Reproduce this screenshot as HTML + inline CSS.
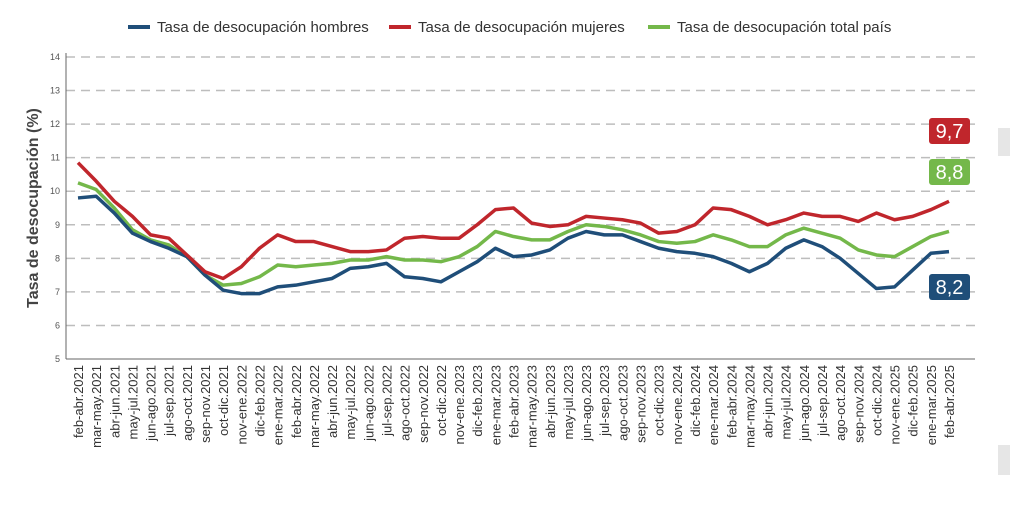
<!DOCTYPE html>
<html><head><meta charset="utf-8">
<style>
body{margin:0;background:#fff;font-family:"Liberation Sans",sans-serif;}
svg{display:block}
</style></head>
<body>
<svg id="chart" width="1010" height="522" viewBox="0 0 1010 522" xmlns="http://www.w3.org/2000/svg">
  <g font-size="15" fill="#333">
    <line x1="128" y1="27" x2="150" y2="27" stroke="#1f4e79" stroke-width="4"/>
    <text x="157" y="32">Tasa de desocupación hombres</text>
    <line x1="389" y1="27" x2="411" y2="27" stroke="#c0262c" stroke-width="4"/>
    <text x="418" y="32">Tasa de desocupación mujeres</text>
    <line x1="648" y1="27" x2="670" y2="27" stroke="#74b84a" stroke-width="4"/>
    <text x="677" y="32">Tasa de desocupación total país</text>
  </g>
  <text transform="translate(38,208) rotate(-90)" text-anchor="middle" font-size="16" font-weight="bold" fill="#444">Tasa de desocupación (%)</text>
  <g id="grid"></g>
  <g id="axes"></g>
  <g id="series"></g>
  <g id="xlabels"></g>
  <rect x="998" y="128" width="12" height="28" fill="#e6e6e6"/>
  <rect x="998" y="445" width="12" height="30" fill="#e6e6e6"/>
</svg>
<script>
const categories = (function(){
  const m=["ene","feb","mar","abr","may","jun","jul","ago","sep","oct","nov","dic"];
  const out=[];
  for(let i=0;i<49;i++){const s=1+i;const e=s+2;const y=2021+Math.floor(e/12);out.push(m[s%12]+"-"+m[e%12]+"."+y);}
  return out;
})();
const hombres = [9.8,9.85,9.35,8.75,8.5,8.3,8.05,7.5,7.05,6.95,6.95,7.15,7.2,7.3,7.4,7.7,7.75,7.85,7.45,7.4,7.3,7.6,7.9,8.3,8.05,8.1,8.25,8.6,8.8,8.7,8.7,8.5,8.3,8.2,8.15,8.05,7.85,7.6,7.85,8.3,8.55,8.35,8.0,7.55,7.1,7.15,7.65,8.15,8.2];
const mujeres = [10.85,10.3,9.7,9.25,8.7,8.6,8.1,7.6,7.4,7.75,8.3,8.7,8.5,8.5,8.35,8.2,8.2,8.25,8.6,8.65,8.6,8.6,9.0,9.45,9.5,9.05,8.95,9.0,9.25,9.2,9.15,9.05,8.75,8.8,9.0,9.5,9.45,9.25,9.0,9.15,9.35,9.25,9.25,9.1,9.35,9.15,9.25,9.45,9.7];
const total = [10.25,10.05,9.5,8.85,8.55,8.4,8.05,7.5,7.2,7.25,7.45,7.8,7.75,7.8,7.85,7.95,7.95,8.05,7.95,7.95,7.9,8.05,8.35,8.8,8.65,8.55,8.55,8.8,9.0,8.95,8.85,8.7,8.5,8.45,8.5,8.7,8.55,8.35,8.35,8.7,8.9,8.75,8.6,8.25,8.1,8.05,8.35,8.65,8.8];
const yTicks = [5,6,7,8,9,10,11,12,13,14];
const lastLabels = ["9,7","8,8","8,2"];

const NS="http://www.w3.org/2000/svg";
const x0=78,x1=949,yTop=57,yBot=359,yMin=5,yMax=14;
const xs=i=>x0+(x1-x0)*i/(categories.length-1);
const ys=v=>yBot-(v-yMin)/(yMax-yMin)*(yBot-yTop);
function mk(tag,attrs,parent){const e=document.createElementNS(NS,tag);for(const k in attrs)e.setAttribute(k,attrs[k]);parent.appendChild(e);return e;}
const grid=document.getElementById('grid'),axes=document.getElementById('axes'),series=document.getElementById('series'),xl=document.getElementById('xlabels');
yTicks.forEach(t=>{
  if(t>yMin){const l=mk('line',{x1:66,x2:975,y1:ys(t),y2:ys(t),stroke:'#bdbdbd','stroke-width':1.5,'stroke-dasharray':'9,6'},grid);
  
  }
  const tx=mk('text',{x:60,y:ys(t)+3,'text-anchor':'end','font-size':9,fill:'#555'},axes);
  tx.textContent=t;
  
  
});
const ya=mk('line',{x1:66,x2:66,y1:yTop-4,y2:yBot,stroke:'#666','stroke-width':1},axes);


const xa=mk('line',{x1:66,x2:975,y1:yBot,y2:yBot,stroke:'#666','stroke-width':1},axes);


categories.forEach((c,i)=>{
  const t=mk('text',{transform:`translate(${xs(i)+5},365) rotate(-90)`,'text-anchor':'end','font-size':13,fill:'#333'},xl);
  t.textContent=c;
  
  
});
const defs=[[total,'#74b84a','line-total'],[hombres,'#1f4e79','line-hombres'],[mujeres,'#c0262c','line-mujeres']];
defs.forEach(([d,col,name])=>{
  const p=mk('polyline',{points:d.map((v,i)=>xs(i)+','+ys(v)).join(' '),fill:'none',stroke:col,'stroke-width':3.5,'stroke-linejoin':'round'},series);
  
  
});
[[mujeres,'#c0262c',131,lastLabels[0],'label-mujeres'],[total,'#74b84a',172,lastLabels[1],'label-total'],[hombres,'#1f4e79',287,lastLabels[2],'label-hombres']].forEach(([d,col,cy,txt,name])=>{
  const g=mk('g',{},series);
  
  
  mk('rect',{x:929,y:cy-13,width:41,height:26,rx:3,fill:col},g);
  const t=mk('text',{x:949.5,y:cy+7,'text-anchor':'middle','font-size':20,fill:'#fff'},g);
  t.textContent=txt;
});
</script>
</body></html>
